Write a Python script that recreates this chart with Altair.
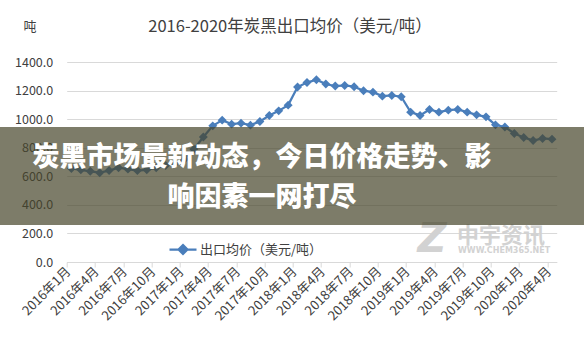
import altair as alt
import pandas as pd

# ---- data ----
months = [f"{y}年{m}月" for y in range(2016, 2021) for m in range(1, 13)][:52]
prices = [655, 645, 635, 625, 640, 660, 650, 640, 645, 660, 675, 690,
          720, 790, 875, 953, 993, 965, 972, 958, 984, 1025, 1058, 1098,
          1225, 1256, 1276, 1246, 1232, 1236, 1227, 1199, 1189, 1161, 1166, 1157,
          1049, 1026, 1068, 1049, 1063, 1068, 1049, 1030, 1016, 960, 945, 900,
          872, 850, 865, 860]
series_name = "出口均价（美元/吨）"
title_text = "2016-2020年炭黑出口均价（美元/吨）"
y_unit = "吨"
banner_lines = ["炭黑市场最新动态，今日价格走势、影", "响因素一网打尽"]
y_ticks = [0, 200, 400, 600, 800, 1000, 1200, 1400]
x_tick_idx = list(range(0, 52, 3))
tick_labels = [months[i] for i in x_tick_idx]
wm_logo = "Z"
wm_name = "中宇资讯"
wm_url = "WWW.CHEM365.NET"

df = pd.DataFrame({"idx": list(range(len(months))), "month": months,
                   "price": prices, "series": [series_name] * len(months)})

# ---- layout ----
W, H = 490, 200
PL, PT = 66.7, 62
PR = 584 - PL - W
PB = 352 - PT - H
FONT = "Noto Sans CJK SC"
BLUE = "#4a7ebb"
GRID = "#d9d9d9"
LAB = "#404040"

label_expr = "[" + ",".join(f"'{t}'" for t in tick_labels) + "][datum.value/3]"

line = alt.Chart(df).transform_calculate(pos="datum.idx + 0.5").mark_line(
    strokeWidth=2.25,
    point=alt.OverlayMarkDef(shape="diamond", size=80, filled=True, opacity=1, color=BLUE),
).encode(
    x=alt.X("pos:Q", scale=alt.Scale(domain=[0, 52], nice=False, zero=False),
            axis=alt.Axis(values=x_tick_idx, labelExpr=label_expr, grid=False,
                          domainColor=GRID, tickColor=GRID, tickSize=5,
                          labelAngle=-45, labelAlign="right", labelBaseline="middle",
                          labelOffset=1.5, labelPadding=2, labelFontSize=13,
                          labelColor=LAB, labelFont=FONT, title=None,
                          labelOverlap=False, labelBound=False, labelFlush=False)),
    y=alt.Y("price:Q", scale=alt.Scale(domain=[0, 1400], nice=False),
            axis=alt.Axis(values=y_ticks, format=".1f", grid=True, gridColor=GRID,
                          gridWidth=1, domain=False, ticks=False, labelPadding=14,
                          labelFontSize=12.5, labelColor=LAB, labelFont=FONT,
                          title=None)),
    color=alt.Color("series:N", scale=alt.Scale(range=[BLUE]),
                    legend=alt.Legend(orient="none", legendX=101.3, legendY=172.5,
                                      title=None, padding=0,
                                      symbolType="M-1,0L1,0M0,-0.33L0.33,0L0,0.33L-0.33,0Z",
                                      symbolSize=729, symbolStrokeWidth=2.25,
                                      symbolStrokeColor=BLUE, symbolFillColor=BLUE,
                                      labelFontSize=13, labelColor=LAB, labelFont=FONT,
                                      labelOffset=2)),
)

one = pd.DataFrame({"a": [0]})

title = alt.Chart(one).mark_text(font=FONT, fontSize=16.5, color="#404040",
                                 align="center", baseline="middle").encode(
    x=alt.value(290 - PL), y=alt.value(27 - PT), text=alt.value(title_text))

unit = alt.Chart(one).mark_text(font=FONT, fontSize=13, color=LAB,
                                align="center", baseline="middle").encode(
    x=alt.value(30 - PL), y=alt.value(27 - PT), text=alt.value(y_unit))

wm1 = alt.Chart(one).mark_text(font="DejaVu Sans", fontSize=40, fontWeight="bold",
                               fontStyle="italic", color="#d2d2d2",
                               align="center", baseline="middle").encode(
    x=alt.value(432 - PL), y=alt.value(240 - PT), text=alt.value(wm_logo))
wm2 = alt.Chart(one).mark_text(font=FONT, fontSize=22, fontWeight="bold", color="#d2d2d2",
                               align="left", baseline="middle").encode(
    x=alt.value(457 - PL), y=alt.value(236 - PT), text=alt.value(wm_name))
wm3 = alt.Chart(one).mark_text(font="DejaVu Sans", fontSize=8, fontWeight="bold", color="#d2d2d2",
                               align="left", baseline="middle").encode(
    x=alt.value(458 - PL), y=alt.value(251 - PT), text=alt.value(wm_url))

banner = alt.Chart(one).mark_rect(color="#46452a", opacity=0.7).encode(
    x=alt.value(-PL), x2=alt.value(584 - PL), y=alt.value(127 - PT), y2=alt.value(225 - PT))

b1 = alt.Chart(one).mark_text(font=FONT, fontSize=27, fontWeight=900, color="white",
                              align="center", baseline="middle").encode(
    x=alt.value(262 - PL), y=alt.value(158 - PT), text=alt.value(banner_lines[0]))
b2 = alt.Chart(one).mark_text(font=FONT, fontSize=27, fontWeight=900, color="white",
                              align="center", baseline="middle").encode(
    x=alt.value(262 - PL), y=alt.value(198 - PT), text=alt.value(banner_lines[1]))

chart = alt.layer(line, title, unit, wm1, wm2, wm3, banner, b1, b2).properties(
    width=W, height=H,
    autosize=alt.AutoSizeParams(type="none"),
    padding={"left": PL, "top": PT, "right": PR, "bottom": PB},
    background="white",
).configure_view(stroke=None)

chart.save("out.html", embed_options={"renderer": "svg", "actions": False})
